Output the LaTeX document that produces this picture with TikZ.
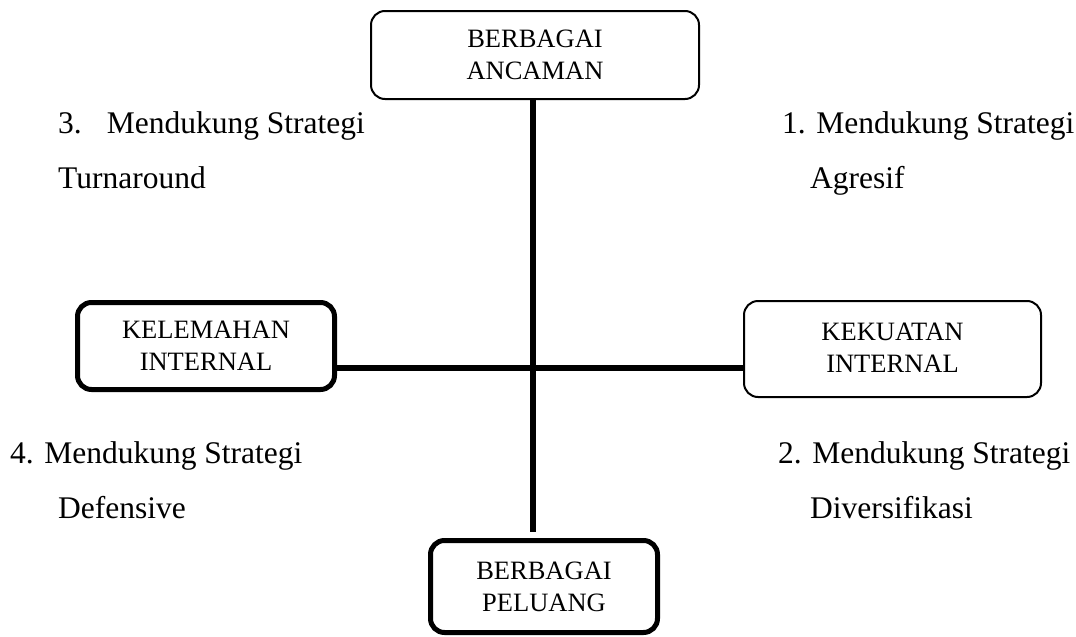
\documentclass[tikz,border=0pt]{standalone}
\usepackage{fontspec}
\setmainfont{Liberation Serif}
\begin{document}
\begin{tikzpicture}[x=1pt,y=-1pt,
  box/.style={draw, rounded corners=14pt, align=center, font=\fontsize{26.5}{32}\selectfont, inner sep=0pt},
  thinbox/.style={box, line width=2pt},
  thickbox/.style={box, line width=5pt},
  axisline/.style={line width=6pt},
  quad/.style={anchor=base west, inner sep=0pt, font=\fontsize{31.5}{38}\selectfont}]
\useasboundingbox (0,0) rectangle (1076,637);

\node[thinbox, minimum width=328pt, minimum height=88pt, text depth=-6pt] (threat) at (535,55) {BERBAGAI\\ANCAMAN};
\node[thickbox, minimum width=257pt, minimum height=87pt, text depth=-8pt] (weak) at (206,346) {KELEMAHAN\\INTERNAL};
\node[thinbox, minimum width=297pt, minimum height=96pt, text depth=3pt] (strong) at (892.5,349) {KEKUATAN\\INTERNAL};
\node[thickbox, minimum width=227pt, minimum height=92pt, text depth=-7pt] (opp) at (544,586.5) {BERBAGAI\\PELUANG};

\node[quad] (q3a) at (58,133) {3.\hspace{25pt}Mendukung Strategi};
\node[quad] (q3b) at (58,188) {Turnaround};
\node[quad] (q1a) at (782,133) {1. Mendukung Strategi};
\node[quad] (q1b) at (810,188) {Agresif};
\node[quad] (q4a) at (10,463) {4. Mendukung Strategi};
\node[quad] (q4b) at (58,518) {Defensive};
\node[quad] (q2a) at (778,463) {2. Mendukung Strategi};
\node[quad] (q2b) at (810,518) {Diversifikasi};

\coordinate (vx) at (533,0);
\coordinate (vend) at (533,532);
\coordinate (hy) at (0,368);
\draw[axisline] (threat.south -| vx) -- (vend);
\draw[axisline] (weak.east |- hy) -- (strong.west |- hy);
\end{tikzpicture}
\end{document}
